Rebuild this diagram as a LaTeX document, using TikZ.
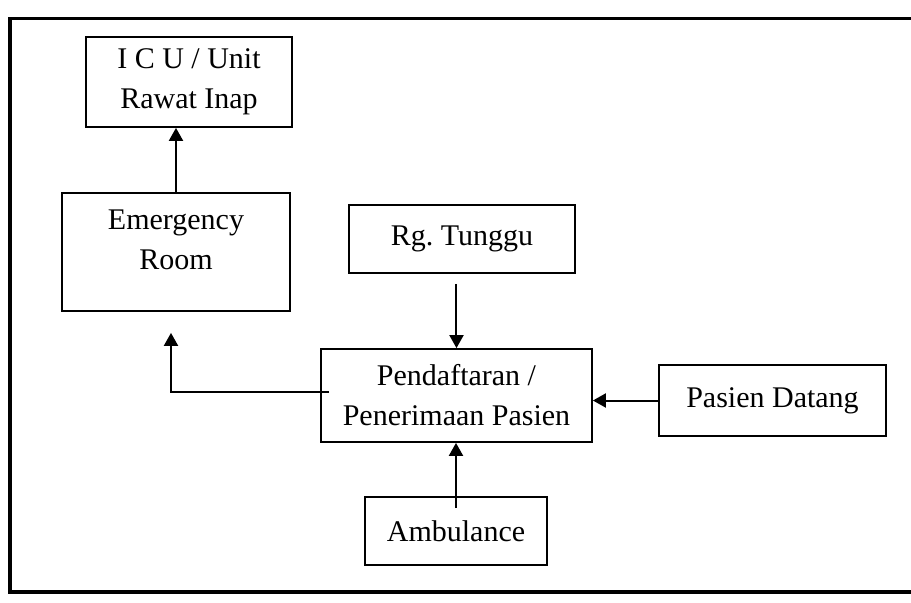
\documentclass[tikz,border=0pt]{standalone}
\usepackage{fontspec}
\setmainfont{Liberation Serif}
\usetikzlibrary{shapes, arrows.meta, positioning}
\tikzstyle{unit}=[draw,fill=white,rectangle,line width=.9pt,align=center,inner sep=0pt]
\tikzstyle{every node}=[font=\fontsize{15}{20}\selectfont]
\begin{document}
\begin{tikzpicture}[>={Triangle[length=6.5pt,width=7pt]}, line width=1pt]
    \useasboundingbox (-228.25pt,-103.25pt) rectangle (227.25pt,197.75pt);
    % outer frame
    \draw[line width=1.8pt] (227.25pt,188.5pt) -- (-223.25pt,188.5pt) -- (-223.25pt,-98.25pt) -- (227.25pt,-98.25pt);
    \node[unit, minimum width=135.5pt, minimum height=46.5pt] (pend) {Pendaftaran /\\Penerimaan Pasien};
    \node[unit, above of=pend, node distance=78.25pt, xshift=2.75pt, minimum width=113pt, minimum height=34pt] (rg) {Rg.\ Tunggu};
    \node[unit, below of=pend, node distance=67.75pt, xshift=-.25pt, minimum width=91pt, minimum height=34pt] (amb) {Ambulance};
    \node[unit, right of=pend, node distance=158pt, yshift=-2.5pt, minimum width=113.5pt, minimum height=35.5pt] (pd) {Pasien Datang};
    \node[unit, left of=pend, node distance=140.25pt, yshift=71.75pt, minimum width=114pt, minimum height=59pt] (er) {Emergency\\Room\rule[-12pt]{0pt}{12pt}};
    \node[unit, above of=er, node distance=85pt, xshift=6.5pt, minimum width=103pt, minimum height=45pt] (icu) {I C U / Unit\\Rawat Inap};
    \draw[->] (er.north) -- (er.north |- icu.south);
    \draw[->, shorten <=5pt] (rg.south -| pend.north) -- (pend.north);
    \draw[->] (pd.west) -- (pd.west -| pend.east);
    \draw[->] ([yshift=-6pt]amb.north) -- (amb.north |- pend.south);
    \draw[->, shorten >=10.5pt] ([xshift=4.5pt,yshift=1.75pt]pend.west) -| ([xshift=-2.5pt]er.south);
\end{tikzpicture}
\end{document}
